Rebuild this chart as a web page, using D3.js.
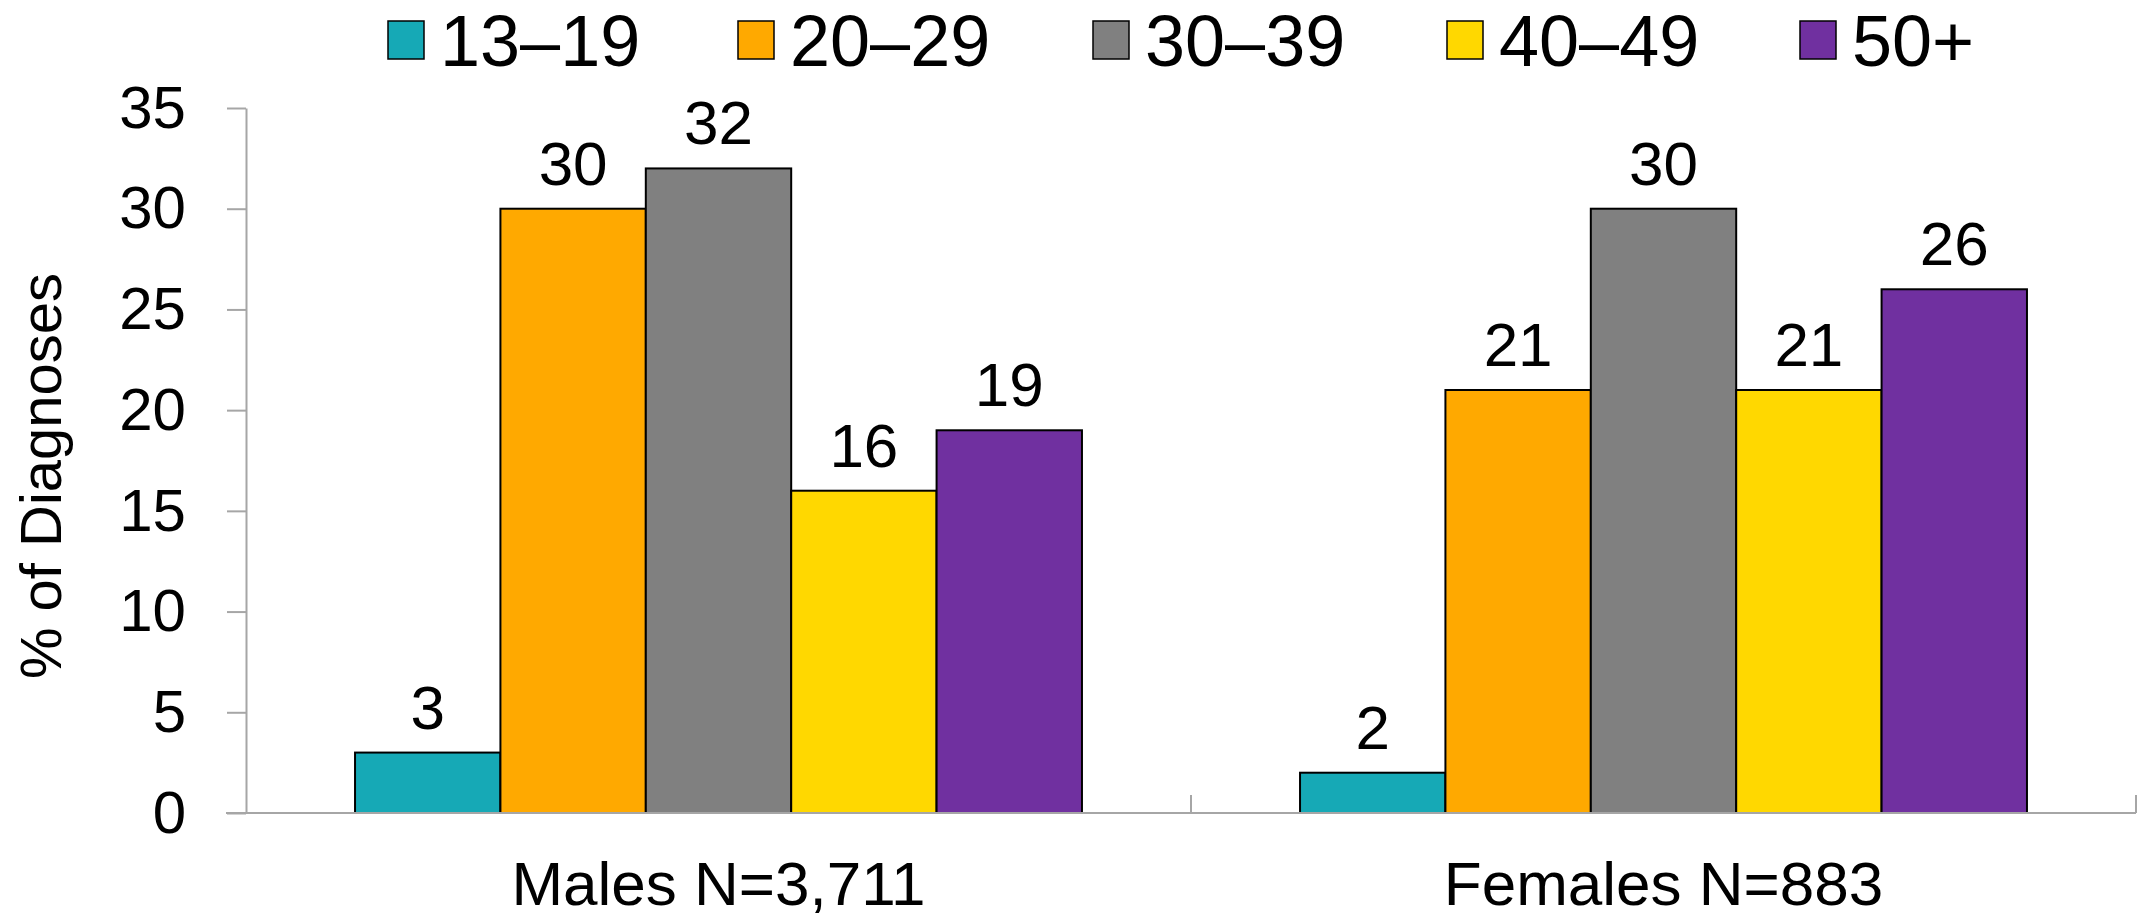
<!DOCTYPE html>
<html><head><meta charset="utf-8">
<script src="https://cdn.jsdelivr.net/npm/d3@7"></script>
<style>
html,body{margin:0;padding:0;background:#fff;}
svg{display:block;font-family:"Liberation Sans",Arial,sans-serif;}
</style></head>
<body>
<svg id="c" width="2143" height="920"></svg>
<script>
const categories = ["Males N=3,711", "Females N=883"];
const series = ["13\u201319", "20\u201329", "30\u201339", "40\u201349", "50+"];
const males = [3, 30, 32, 16, 19];
const females = [2, 21, 30, 21, 26];
const colors = ["#16A9B6", "#FFA900", "#808080", "#FFD800", "#7030A0"];
const yTicks = [0, 5, 10, 15, 20, 25, 30, 35];

const values = [males, females];
const svg = d3.select("#c");
const L = 246, R = 2136, T = 108, B = 813;

const x0 = d3.scaleBand().domain(categories).range([L, R]).padding(0);
const x1 = d3.scaleBand().domain(series).range([0, x0.bandwidth()]).paddingInner(0).paddingOuter(0.75);
const y = d3.scaleLinear().domain([0, 35]).range([B, T]);
const color = d3.scaleOrdinal().domain(series).range(colors);

// y axis
const ya = svg.append("g").attr("transform", `translate(${L},0)`)
  .call(d3.axisLeft(y).tickValues(yTicks).tickSize(19).tickPadding(41).tickSizeOuter(0));
ya.select(".domain").attr("stroke", "#A6A6A6").attr("stroke-width", 2);
ya.selectAll(".tick line").attr("stroke", "#A6A6A6").attr("stroke-width", 2);
ya.selectAll(".tick text").attr("font-size", 60).attr("fill", "#000")
  .attr("font-family", "Liberation Sans, Arial, sans-serif");

// y title
svg.append("text").attr("transform", `translate(61,476) rotate(-90)`)
  .attr("text-anchor", "middle").attr("font-size", 58).attr("fill", "#000")
  .text("% of Diagnoses");

// bars
const groups = svg.selectAll("g.grp").data(categories).enter().append("g")
  .attr("class", "grp").attr("transform", d => `translate(${x0(d)},0)`);
groups.each(function(cat, ci) {
  const g = d3.select(this);
  const rows = series.map((s, i) => ({s, v: values[ci][i]}));
  g.selectAll("rect").data(rows).enter().append("rect")
    .attr("x", d => x1(d.s)).attr("width", x1.bandwidth())
    .attr("y", d => y(d.v)).attr("height", d => y(0) - y(d.v))
    .attr("fill", d => color(d.s)).attr("stroke", "#000").attr("stroke-width", 2);
  g.selectAll("text.lbl").data(rows).enter().append("text").attr("class", "lbl")
    .attr("x", d => x1(d.s) + x1.bandwidth() / 2).attr("y", d => y(d.v) - 24)
    .attr("text-anchor", "middle").attr("font-size", 62).attr("fill", "#000")
    .text(d => d.v);
});

// x axis
const xa = svg.append("g").attr("transform", `translate(0,${B})`)
  .call(d3.axisBottom(x0).tickSize(0).tickPadding(48));
xa.select(".domain").remove();
xa.selectAll(".tick text").attr("font-size", 62).attr("fill", "#000")
  .attr("font-family", "Liberation Sans, Arial, sans-serif");
svg.append("line").attr("x1", L - 20).attr("x2", R).attr("y1", B).attr("y2", B)
  .attr("stroke", "#A6A6A6").attr("stroke-width", 2);
svg.selectAll("line.xt").data(categories).enter().append("line").attr("class", "xt")
  .attr("x1", d => x0(d) + x0.bandwidth()).attr("x2", d => x0(d) + x0.bandwidth())
  .attr("y1", B).attr("y2", B - 18).attr("stroke", "#A6A6A6").attr("stroke-width", 2);

// legend
const legX = [440, 790, 1145, 1499, 1852];
const leg = svg.selectAll("g.leg").data(series).enter().append("g").attr("class", "leg")
  .attr("transform", (d, i) => `translate(${legX[i]},0)`);
leg.append("rect").attr("x", -52).attr("y", 21).attr("width", 36).attr("height", 38)
  .attr("fill", d => color(d)).attr("stroke", "#000").attr("stroke-width", 1.5);
leg.append("text").attr("x", 0).attr("y", 66).attr("font-size", 72).attr("fill", "#000")
  .text(d => d);
</script>
</body></html>
